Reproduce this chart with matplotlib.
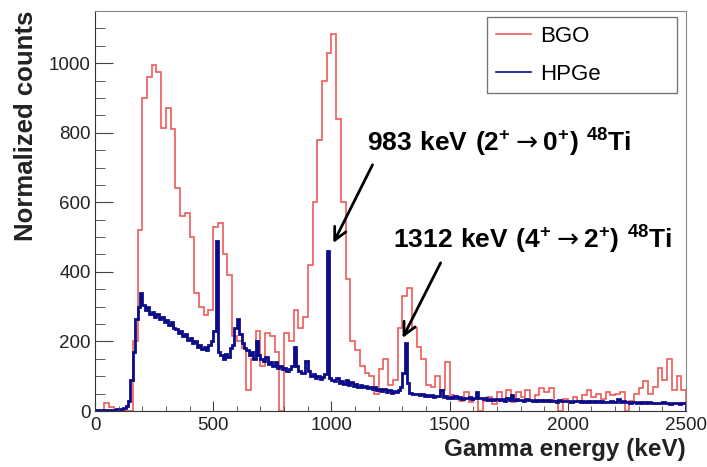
import numpy as np
import matplotlib.pyplot as plt
from matplotlib.lines import Line2D

plt.rcParams['font.family'] = ['Liberation Sans', 'DejaVu Sans']
plt.rcParams['mathtext.fontset'] = 'custom'
plt.rcParams['mathtext.rm'] = 'Liberation Sans'
plt.rcParams['mathtext.bf'] = 'Liberation Sans:bold'
plt.rcParams['mathtext.sf'] = 'DejaVu Sans'

# BGO spectrum, 20 keV bins from 0 to 2500 keV
bgo_width = 20
bgo_counts = [
    0, 0, 22, 12, 0, 0, 0, 0, 200, 520,                # 0-200
    900, 960, 995, 975, 815, 870, 810, 640, 560, 570,  # 200-400
    500, 340, 300, 275, 290, 530, 540, 450, 390, 215,  # 400-600
    200, 180, 60, 150, 230, 130, 225, 215, 170, 0,     # 600-800
    225, 200, 290, 240, 270, 420, 600, 780, 950, 1030, # 800-1000
    1085, 840, 600, 380, 200, 175, 130, 110, 100, 50,  # 1000-1200
    120, 150, 75, 90, 240, 330, 355, 240, 185, 150,    # 1200-1400
    75, 70, 100, 60, 140, 45, 40, 30, 55, 25,          # 1400-1600
    35, 0, 30, 40, 20, 55, 30, 60, 25, 55,             # 1600-1800
    40, 60, 30, 45, 65, 55, 65, 30, 0, 35,             # 1800-2000
    25, 40, 30, 45, 60, 40, 50, 35, 55, 45,            # 2000-2200
    50, 55, 0, 30, 50, 65, 85, 50, 70, 125,            # 2200-2400
    90, 150, 60, 100, 60,                              # 2400-2500
]

# HPGe spectrum, 10 keV bins from 0 to 2500 keV
hpge_width = 10
hpge_counts = [
    3, 2, 4, 3, 2, 3, 4, 3, 4, 5,
    5, 7, 9, 15, 28, 90, 170, 265, 300, 340,
    305, 290, 300, 280, 285, 270, 280, 265, 270, 255,
    262, 248, 255, 240, 235, 225, 230, 215, 220, 205,
    210, 195, 200, 185, 190, 178, 185, 175, 190, 200,
    230, 490, 170, 160, 150, 165, 155, 180, 190, 240,
    265, 220, 195, 180, 175, 160, 170, 150, 200, 160,
    150, 145, 155, 135, 140, 130, 140, 125, 130, 120,
    125, 115, 120, 130, 185, 130, 115, 110, 110, 145,
    115, 100, 105, 95, 100, 92, 98, 105, 460, 95,
    90, 85, 95, 80, 85, 78, 88, 75, 82, 72,
    78, 70, 75, 68, 72, 65, 70, 62, 68, 60,
    64, 58, 62, 55, 60, 52, 58, 55, 60, 70,
    110, 195, 80, 52, 50, 48, 50, 45, 48, 44,
    46, 42, 45, 40, 44, 42, 60, 40, 43, 38,
    40, 36, 42, 38, 40, 35, 38, 36, 40, 34,
    38, 55, 36, 38, 34, 36, 33, 35, 32, 34,
    35, 32, 34, 30, 36, 33, 45, 32, 34, 31,
    33, 30, 34, 31, 32, 29, 33, 30, 31, 29,
    32, 28, 31, 29, 30, 27, 31, 28, 30, 28,
    30, 27, 29, 28, 30, 26, 29, 27, 28, 26,
    28, 26, 29, 27, 28, 25, 27, 26, 28, 25,
    27, 35, 26, 28, 25, 27, 24, 26, 25, 24,
    26, 24, 25, 23, 25, 22, 24, 23, 22, 24,
    25, 22, 24, 21, 23, 22, 24, 21, 23, 22,
]

label_983 = r'$\mathbf{983\ keV\ (2^{+}}\mathsf{\rightarrow}\mathbf{0^{+})\ ^{48}Ti}$'
label_1312 = r'$\mathbf{1312\ keV\ (4^{+}}\mathsf{\rightarrow}\mathbf{2^{+})\ ^{48}Ti}$'

red = '#ee5b5b'
blue = '#0c0c8a'

fig = plt.figure(figsize=(7.07, 4.67), dpi=100)
ax = fig.add_axes([0.1344, 0.1199, 0.8359, 0.8565])

bgo_edges = np.arange(len(bgo_counts) + 1) * bgo_width
hpge_edges = np.arange(len(hpge_counts) + 1) * hpge_width
ax.stairs(bgo_counts, bgo_edges, color=red, lw=1.2)
ax.stairs(hpge_counts, hpge_edges, color=blue, lw=2.0)

ax.set_xlim(0, 2500)
ax.set_ylim(0, 1150)

ax.set_xticks(np.arange(0, 2501, 500))
ax.set_xticks(np.arange(0, 2501, 100), minor=True)
ax.set_yticks(np.arange(0, 1001, 200))
ax.set_yticks(np.arange(0, 1151, 50), minor=True)
ax.tick_params(which='both', direction='in', top=False, right=False,
               labelsize=13.5, labelcolor='#222222', color='#444444')
ax.tick_params(axis='y', which='major', length=13, pad=3)
ax.tick_params(axis='y', which='minor', length=7)
ax.tick_params(axis='x', which='major', length=7, pad=4)
ax.tick_params(axis='x', which='minor', length=3.5)

for side in ['left', 'bottom']:
    ax.spines[side].set_color('#333333')
for side in ['top', 'right']:
    ax.spines[side].set_color('#888888')

ax.set_ylabel('Normalized counts', fontsize=18.5, fontweight='bold',
              loc='top', labelpad=8, color='#222222')
ax.set_xlabel('Gamma energy (keV)', fontsize=17.5, fontweight='bold',
              loc='right', labelpad=3, color='#222222')

# peak labels with arrows pointing at the HPGe lines
ax.text(1150, 747, label_983, fontsize=19, ha='left', va='baseline')
ax.text(1261, 466, label_1312, fontsize=19, ha='left', va='baseline')
arrow = dict(arrowstyle='->,head_length=0.9,head_width=0.45', lw=2, color='black',
             shrinkA=0, shrinkB=0)
ax.annotate('', xy=(1008, 483), xytext=(1174, 708), arrowprops=arrow)
ax.annotate('', xy=(1301, 210), xytext=(1462, 426), arrowprops=arrow)

handles = [Line2D([], [], color=red, lw=1.2), Line2D([], [], color=blue, lw=1.2)]
leg = ax.legend(handles, ['BGO', 'HPGe'], loc='upper left',
                bbox_to_anchor=(0.663, 0.7975, 0.322, 0.1875), mode='expand',
                fontsize=16, frameon=True, fancybox=False, edgecolor='#555555',
                handlelength=1.6, borderpad=0.4, labelspacing=0.75,
                handletextpad=0.4, borderaxespad=0)
leg.get_frame().set_linewidth(1.0)

fig.savefig('out.png', dpi=100)
